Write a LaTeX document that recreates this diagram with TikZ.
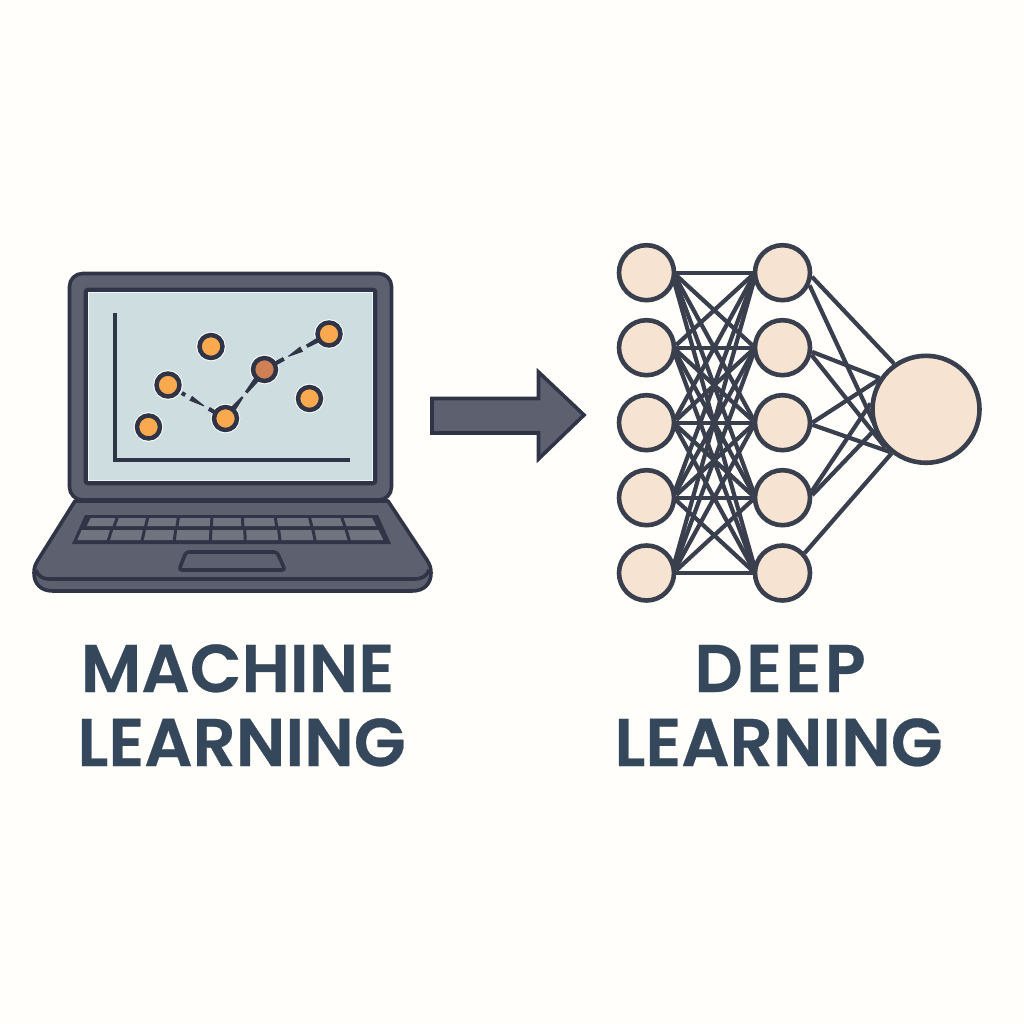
\documentclass[tikz,border=0pt]{standalone}
\usepackage{fontspec}
\usetikzlibrary{calc}
\newfontfamily\labelfont[FakeBold=0.4]{Poppins SemiBold}
\definecolor{paper}{HTML}{FFFEFA}
\definecolor{ink}{HTML}{2F3547}
\definecolor{casing}{HTML}{5C606F}
\definecolor{keycap}{HTML}{70747F}
\definecolor{screenfill}{HTML}{CEDDE0}
\definecolor{dotorange}{HTML}{FBA94F}
\definecolor{dotbrown}{HTML}{CF8055}
\definecolor{neuron}{HTML}{F6E3D2}
\definecolor{wire}{HTML}{3A3F4E}
\definecolor{title}{HTML}{35475A}
\pgfdeclarelayer{paperlayer}
\pgfdeclarelayer{edgelayer}
\pgfsetlayers{paperlayer,edgelayer,main}
\tikzset{
  px/.style={line width=#1*0.25mm},
  body/.style={draw=ink,fill=casing,px=3.6,line join=round},
  dot/.style={circle,inner sep=0pt,minimum size=23*0.25mm,draw=ink,px=4.5,fill=dotorange,
     preaction={draw=white,px=6.5}},
  neuronsmall/.style={circle,inner sep=0pt,minimum size=55*0.25mm,draw=wire,px=4.6,fill=neuron},
  neuronbig/.style={circle,inner sep=0pt,minimum size=107*0.25mm,draw=wire,px=4.6,fill=neuron},
  edge/.style={draw=wire,px=4.2},
  heading/.style={anchor=base,text=title,inner sep=0pt,font=\labelfont\fontsize{48}{48}\selectfont},
}
\newcommand\dashbit[6]{%
  \coordinate (dA) at ($(#1)!#3!(#2)$);
  \coordinate (dB) at ($(#1)!#4!(#2)$);
  \fill[ink] ($(dA)!#5*0.125mm!90:(dB)$) -- ($(dA)!#5*0.125mm!-90:(dB)$)
     -- ($(dB)!#6*0.125mm!90:(dA)$) -- ($(dB)!#6*0.125mm!-90:(dA)$) -- cycle;
}
\begin{document}
\begin{tikzpicture}[x=0.25mm,y=-0.25mm]
\useasboundingbox (0,0) rectangle (1024,1024);
\begin{pgfonlayer}{paperlayer}
  \fill[paper] (0,0) rectangle (1024,1024);
\end{pgfonlayer}

% laptop base
\draw[body]
  (75,501) -- (388,501) -- (427,560) .. controls (430,565) and (431,568) .. (431,573)
  .. controls (431,584) and (424,591) .. (412,591) -- (53,591)
  .. controls (41,591) and (34,584) .. (34,573) .. controls (34,568) and (35,565) .. (38,560) -- cycle;
\draw[ink,px=3.6] (36,570) .. controls (38,576) and (42,579) .. (50,579) -- (414,579)
  .. controls (422,579) and (427,576) .. (429,570);
% keyboard
\fill[ink] (85,515) -- (378,515) -- (391,544) -- (72,544) -- cycle;
\fill[keycap] (90.7,518) -- (372,518) -- (376,526) -- (86.7,526) -- cycle;
\fill[keycap] (81.7,530) -- (378.3,530) -- (383.3,540) -- (77.3,540) -- cycle;
\foreach \z in {287,380,473,575,668,768,872,970}{
  \draw[ink,px=3] ({20+(\z+(\z-630)*(-0.015))/3},517) -- ({20+(\z+(\z-630)*0.015)/3},527);
}
\foreach \z in {270,370,465,572,675,778,882,983}{
  \draw[ink,px=3] ({20+(\z+(\z-630)*(-0.015))/3},529) -- ({20+(\z+(\z-630)*0.015)/3},541);
}
% touchpad
\draw[ink,px=3.6,fill=casing,rounded corners=3*0.25mm] (186,552) -- (277,552) -- (285,570) -- (179,570) -- cycle;

% lid
\draw[body,rounded corners=13*0.25mm] (69.5,273.5) rectangle (391.5,500);
\draw[ink,px=4.6,fill=screenfill,rounded corners=2*0.25mm] (86,290) rectangle (375,483);
\draw[white!70!screenfill,px=1] (88.8,292.8) rectangle (372.2,480.2);
% axes
\draw[ink,px=4] (115,313) -- (115,459.5) -- (350,459.5);

% chart points
\node[dot] (p1) at (148.5,427) {};
\node[dot] (p2) at (168,385) {};
\node[dot] (p3) at (211,346.5) {};
\node[dot] (p4) at (225.5,418.5) {};
\node[dot,fill=dotbrown] (p5) at (264.5,369.5) {};
\node[dot] (p6) at (329,334) {};
\node[dot] (p7) at (309.5,398.5) {};
\dashbit{p2}{p4}{0.24}{0.30}{4}{4}
\dashbit{p2}{p4}{0.395}{0.626}{5.5}{1}
\dashbit{p2}{p4}{0.71}{0.80}{4}{4}
\dashbit{p4}{p5}{0.20}{0.44}{5.5}{2}
\dashbit{p4}{p5}{0.53}{0.80}{3}{5.5}
\dashbit{p5}{p6}{0.18}{0.30}{4}{4}
\dashbit{p5}{p6}{0.37}{0.575}{1}{6}
\dashbit{p5}{p6}{0.655}{0.84}{3.5}{5}

% arrow
\draw[body,line join=miter] (432,398.5) -- (538.5,398.5) -- (538.5,372) -- (584,415) -- (538.5,459) -- (538.5,433) -- (432,433) -- cycle;

% network
\foreach \i/\y in {1/272.7,2/347.7,3/422.7,4/497.7,5/573}{
  \node[neuronsmall] (a\i) at (646.5,\y) {};
  \node[neuronsmall] (b\i) at (782.5,\y) {};
}
\node[neuronbig] (o) at (926,409.3) {};
\begin{pgfonlayer}{edgelayer}
  \foreach \i in {1,...,5}{\foreach \j in {1,...,5}{
    \pgfmathsetmacro\startang{-5*(\j-\i)}
    \pgfmathsetmacro\endang{180-4*(\j-\i)}
    \draw[edge] (a\i.\startang) -- (b\j.\endang);
  }}
  \foreach \s/\sa/\ta in {1/-8/125,1/-25/223,2/-8/146,2/-14/223,3/0/148,3/-4/230,4/12/174,4/5/202,5/42/232}{
    \draw[edge] (b\s.\sa) -- (o.\ta);
  }
\end{pgfonlayer}

% titles
\node[heading] (t1) at (237.5,692) {MACHINE};
\node[heading] (t2) at (241.5,766) {LEARNING};
\node[heading] (t3) at (780,692) {\addfontfeature{LetterSpace=5}DEEP};
\node[heading] (t4) at (778.5,766) {LEARNING};
\end{tikzpicture}
\end{document}
